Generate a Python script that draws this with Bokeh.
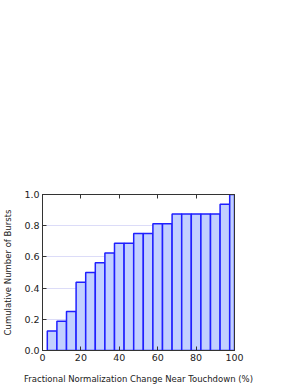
from bokeh.plotting import figure
from bokeh.models import LinearAxis, Range1d, FixedTicker, NumeralTickFormatter
from bokeh.embed import file_html
from bokeh.resources import INLINE

bin_centers = [5, 10, 15, 20, 25, 30, 35, 40, 45, 50, 55, 60, 65, 70, 75, 80, 85, 90, 95, 100]
cumulative = [0.125, 0.1875, 0.25, 0.4375, 0.5, 0.5625, 0.625, 0.6875, 0.6875, 0.75,
              0.75, 0.8125, 0.8125, 0.875, 0.875, 0.875, 0.875, 0.875, 0.9375, 1.0]
bin_width = 5
x_ticks = [0, 20, 40, 60, 80, 100]
y_ticks = [0.0, 0.2, 0.4, 0.6, 0.8, 1.0]

FONT = "DejaVu Sans"

p = figure(frame_width=192, frame_height=156, output_backend="svg", toolbar_location=None,
           x_range=Range1d(0, 100), y_range=Range1d(0, 1.0),
           min_border_left=37, min_border_top=194, min_border_bottom=20, min_border_right=46)
p.background_fill_color = "white"
p.outline_line_color = "#333333"
p.outline_line_width = 1

p.vbar(x=bin_centers, top=cumulative, bottom=0, width=bin_width,
       fill_color="#c2d0ff", line_color="#1f1fff", line_width=1.5)

for ax in (p.xaxis[0], p.yaxis[0]):
    ax.major_tick_in = 4
    ax.major_tick_out = 0
    ax.minor_tick_line_color = None
    ax.axis_line_color = "#333333"
    ax.major_tick_line_color = "#333333"
    ax.major_label_text_font = FONT
    ax.major_label_text_font_size = "9.5px"
    ax.major_label_text_color = "#222222"
    ax.axis_label_text_font = FONT
    ax.axis_label_text_font_size = "8.5px"
    ax.axis_label_text_font_style = "normal"
    ax.axis_label_text_color = "#222222"
    ax.major_label_standoff = 3

p.xaxis[0].ticker = FixedTicker(ticks=x_ticks)
p.yaxis[0].ticker = FixedTicker(ticks=y_ticks)
p.yaxis[0].formatter = NumeralTickFormatter(format="0.0")
p.xaxis[0].axis_label = "Fractional Normalization Change Near Touchdown (%)"
p.yaxis[0].axis_label = "Cumulative Number of Bursts"
p.xaxis[0].axis_label_standoff = 10
p.yaxis[0].axis_label_standoff = 8

top = LinearAxis(ticker=FixedTicker(ticks=x_ticks), major_label_text_font_size="0px",
                 major_tick_in=4, major_tick_out=0, minor_tick_line_color=None,
                 axis_line_color="#333333", major_tick_line_color="#333333")
top.major_label_text_color = None
p.add_layout(top, "above")
right = LinearAxis(ticker=FixedTicker(ticks=y_ticks), major_label_text_font_size="0px",
                   major_tick_in=0, major_tick_out=0, minor_tick_line_color=None,
                   axis_line_color="#333333")
right.major_label_text_color = None
p.add_layout(right, "right")

p.xgrid.grid_line_color = None
p.ygrid.grid_line_color = "#dcdcf8"
p.ygrid.ticker = FixedTicker(ticks=[0.2, 0.4, 0.6, 0.8])

open("out.html", "w").write(file_html(p, INLINE))
